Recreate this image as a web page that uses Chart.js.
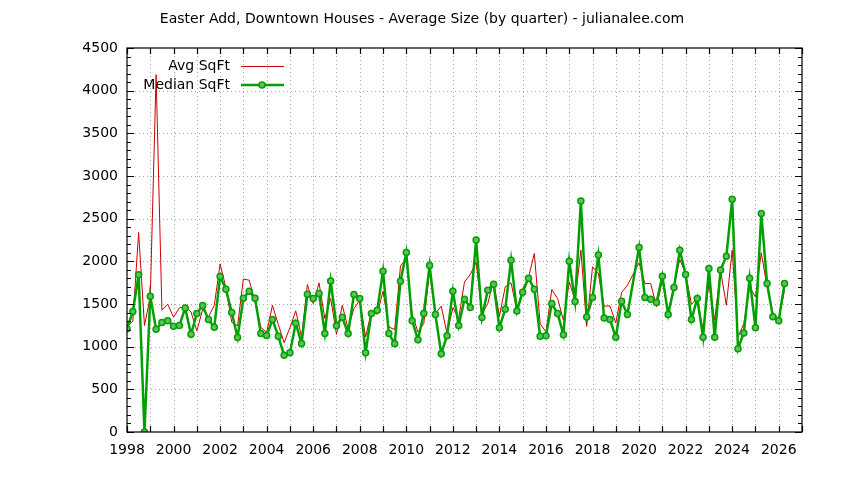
<!DOCTYPE html>
<html>
<head>
<meta charset="utf-8">
<title>Easter Add, Downtown Houses - Average Size</title>
<script src="https://cdn.jsdelivr.net/npm/chart.js@4.4.1/dist/chart.umd.min.js"></script>
<style>
  html, body { margin: 0; padding: 0; background: #fff; }
  #wrap { width: 844px; height: 480px; }
</style>
</head>
<body>
<div id="wrap"><canvas id="sizeChart" width="844" height="480"></canvas></div>
<script>
// Quarterly data, first quarter of 1998 onward (null = no sales that quarter)
const startYear = 1998
const avgSqft = [
  1231, 1300, 2338, 1248, 1580, 4187, 1428, 1498, 1346, 1455, 1467, 1408, 1184, 1435, 1348, 1485,
  1970, 1690, 1286, 1243, 1793, 1779, 1530, 1227, 1168, 1485, 1260, 1047, 1223, 1419, 1114, 1728,
  1505, 1748, 1329, 1564, 1145, 1485, 1211, 1446, 1544, 1114, 1407, 1380, 1650, 1231, 1200, 1944,
  2034, 1380, 1172, 1270, 1897, 1388, 1474, 1153, 1458, 1329, 1759, 1846, 1990, 1388, 1505, 1771,
  1356, 1701, 1748, 1427, 1681, 1810, 2092, 1270, 1172, 1669, 1564, 1309, 1759, 1544, 2131, 1239,
  1936, 1857, 1474, 1478, 1278, 1634, 1720, null, 1983, 1740, 1740, 1466, 1779, 1388, 1720, 2022,
  1857, 1497, 1564, 1192, 1740, 1309, 1897, 1485, 2131, 1114, 1270, 1701, 1583, 2100, 1701, 1388,
  1329, 1662,
]
const medianSqft = [
  1211, 1411, 1842, 0, 1591, 1204, 1282, 1305, 1239, 1247, 1454, 1145, 1388, 1482, 1317, 1227,
  1822, 1673, 1400, 1108, 1566, 1650, 1566, 1153, 1130, 1318, 1121, 898, 930, 1274, 1037, 1615,
  1565, 1624, 1155, 1770, 1245, 1345, 1153, 1611, 1564, 930, 1388, 1427, 1885, 1153, 1035, 1767,
  2104, 1305, 1082, 1388, 1951, 1376, 918, 1129, 1650, 1247, 1556, 1460, 2249, 1341, 1662, 1732,
  1223, 1438, 2014, 1419, 1638, 1803, 1673, 1121, 1129, 1505, 1388, 1141, 2002, 1529, 2707, 1348,
  1575, 2073, 1337, 1317, 1110, 1532, 1376, null, 2163, 1575, 1556, 1517, 1826, 1376, 1693, 2131,
  1846, 1317, 1564, 1110, 1916, 1110, 1897, 2061, 2727, 977, 1161, 1803, 1223, 2562, 1740, 1352,
  1305, 1740,
]
const xTickYears = [1998, 2000, 2002, 2004, 2006, 2008, 2010, 2012, 2014, 2016, 2018, 2020, 2022, 2024, 2026]
const yTickValues = [0, 500, 1000, 1500, 2000, 2500, 3000, 3500, 4000, 4500]
const seriesNames = ["Avg SqFt", "Median SqFt"]
const titleText = "Easter Add, Downtown Houses - Average Size (by quarter) - julianalee.com"

const RED = "#cc0000"
const GREEN = "#00a000"
const FONT = "'DejaVu Sans', 'Liberation Sans', sans-serif"

const toPoints = (arr) => arr.map((v, i) => ({ x: startYear + i / 4, y: v }))

// gnuplot-like frame: dotted grid, border, inward ticks, inset legend, title
const gnuplotFrame = {
  id: "gnuplotFrame",
  beforeDatasetsDraw(chart) {
    const { ctx, chartArea: a, scales: { x, y } } = chart
    ctx.save()
    ctx.strokeStyle = "#a8a8a8"
    ctx.lineWidth = 1
    ctx.setLineDash([1, 3])
    ctx.beginPath()
    for (let yr = x.min + 1; yr < x.max; yr++) {
      const px = Math.round(x.getPixelForValue(yr)) + 0.5
      ctx.moveTo(px, a.top)
      ctx.lineTo(px, a.bottom)
    }
    yTickValues.forEach((v) => {
      if (v <= y.min || v >= y.max) return
      const py = Math.round(y.getPixelForValue(v)) + 0.5
      ctx.moveTo(a.left, py)
      ctx.lineTo(a.right, py)
    })
    ctx.stroke()
    ctx.restore()
  },
  afterDatasetsDraw(chart) {
    const { ctx, chartArea: a, scales: { x, y } } = chart
    ctx.save()
    ctx.strokeStyle = "#000"
    ctx.lineWidth = 1.2
    ctx.setLineDash([])
    ctx.strokeRect(a.left, a.top, a.right - a.left, a.bottom - a.top)

    ctx.beginPath()
    for (let yr = x.min; yr <= x.max; yr++) {
      const px = Math.round(x.getPixelForValue(yr)) + 0.5
      ctx.moveTo(px, a.bottom)
      ctx.lineTo(px, a.bottom - 6)
      ctx.moveTo(px, a.top)
      ctx.lineTo(px, a.top + 6)
    }
    for (let v = y.min; v <= y.max; v += 100) {
      const len = v % 500 === 0 ? 7 : 4
      const py = Math.round(y.getPixelForValue(v)) + 0.5
      ctx.moveTo(a.left, py)
      ctx.lineTo(a.left + len, py)
      ctx.moveTo(a.right, py)
      ctx.lineTo(a.right - len, py)
    }
    ctx.stroke()

    // legend inside the plot, top left
    ctx.font = "14px " + FONT
    ctx.fillStyle = "#000"
    ctx.textAlign = "right"
    ctx.textBaseline = "middle"
    const lx = 230, ly = [66, 85]
    ctx.fillText(seriesNames[0], lx, ly[0])
    ctx.fillText(seriesNames[1], lx, ly[1])
    ctx.strokeStyle = RED
    ctx.lineWidth = 1
    ctx.beginPath()
    ctx.moveTo(241, ly[0] + 0.5)
    ctx.lineTo(284, ly[0] + 0.5)
    ctx.stroke()
    ctx.strokeStyle = GREEN
    ctx.lineWidth = 2.5
    ctx.beginPath()
    ctx.moveTo(241, ly[1])
    ctx.lineTo(284, ly[1])
    ctx.stroke()
    ctx.fillStyle = "#60c060"
    ctx.lineWidth = 1.5
    ctx.beginPath()
    ctx.arc(262, ly[1], 3, 0, Math.PI * 2)
    ctx.fill()
    ctx.stroke()

    // title
    ctx.fillStyle = "#000"
    ctx.textAlign = "center"
    ctx.font = "14px " + FONT
    ctx.fillText(titleText, 422, 19)
    ctx.restore()
  },
}

new Chart(document.getElementById("sizeChart"), {
  type: "line",
  data: {
    datasets: [
      {
        label: seriesNames[0],
        data: toPoints(avgSqft),
        borderColor: RED,
        borderWidth: 1,
        pointRadius: 0,
        tension: 0,
        spanGaps: true,
        order: 2,
      },
      {
        label: seriesNames[1],
        data: toPoints(medianSqft),
        borderColor: GREEN,
        borderWidth: 2.5,
        pointRadius: 3,
        pointBorderWidth: 1.5,
        pointBorderColor: GREEN,
        pointBackgroundColor: "#60c060",
        tension: 0,
        spanGaps: true,
        order: 1,
      },
    ],
  },
  options: {
    responsive: false,
    animation: false,
    devicePixelRatio: 1,
    layout: { padding: { top: 48, right: 42, left: 0, bottom: 0 } },
    plugins: {
      legend: { display: false },
      title: { display: false },
      tooltip: { enabled: false },
    },
    scales: {
      x: {
        type: "linear",
        min: 1998,
        max: 2027,
        afterFit: (scale) => { scale.height = 48 },
        afterBuildTicks: (scale) => { scale.ticks = xTickYears.map((v) => ({ value: v })) },
        grid: { display: false, drawTicks: false },
        border: { display: false },
        ticks: {
          autoSkip: false,
          maxRotation: 0,
          padding: 10,
          color: "#000",
          font: { family: FONT, size: 14 },
          callback: (v) => String(v),
        },
      },
      y: {
        min: 0,
        max: 4500,
        afterFit: (scale) => { scale.width = 127 },
        afterBuildTicks: (scale) => { scale.ticks = yTickValues.map((v) => ({ value: v })) },
        grid: { display: false, drawTicks: false },
        border: { display: false },
        ticks: {
          padding: 9,
          color: "#000",
          font: { family: FONT, size: 14 },
          callback: (v) => String(v),
        },
      },
    },
  },
  plugins: [gnuplotFrame],
})
</script>
</body>
</html>
